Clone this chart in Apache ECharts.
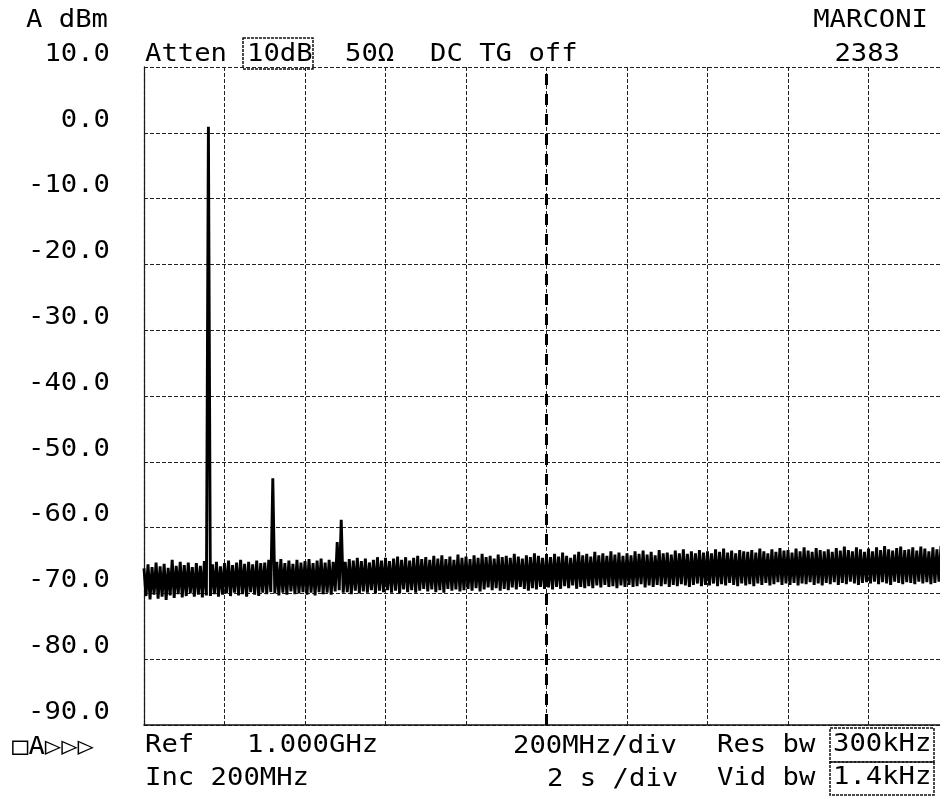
<!DOCTYPE html>
<html>
<head>
<meta charset="utf-8">
<title>MARCONI 2383</title>
<script src="https://cdn.jsdelivr.net/npm/echarts@6/dist/echarts.min.js"></script>
<style>
  html, body { margin: 0; padding: 0; background: #fff; }
  #chart { width: 940px; height: 797px; }
</style>
</head>
<body>
<div id="chart"></div>
<script>
// Frequency span (MHz): 200 MHz per division, ten divisions
const spanStartMHz = 0;
const spanEndMHz = 2000;
const freqDivMHz = 200;
const centerMHz = 1000;
const traceStepMHz = 5;

// Level scale (dBm)
const levelTicks = [10, 0, -10, -20, -30, -40, -50, -60, -70, -80, -90];
const levelTickLabels = ['10.0', '0.0', '-10.0', '-20.0', '-30.0', '-40.0', '-50.0', '-60.0', '-70.0', '-80.0', '-90.0'];

// Sweep trace, one reading every 5 MHz from 0 MHz to 2000 MHz (dBm)
const traceDbm = [
  -66.2, -70.4, -65.6, -70.9, -66.0, -70.2, -65.3, -70.8, -65.9, -70.5, -65.5, -71.0, -66.1, -70.3, -64.9, -70.7, -65.8, -70.1, -65.2, -70.6,
  -65.7, -70.4, -65.3, -70.0, -66.0, -70.5, -65.4, -70.2, -65.8, -70.6, -65.1, -70.3,   0.9, -70.4, -65.6, -70.1, -65.2, -70.5, -65.9, -70.2,
  -65.4, -70.0, -65.0, -70.4, -65.7, -69.9, -65.3, -70.3, -64.9, -70.1, -65.5, -70.5, -65.2, -69.8, -65.6, -70.2, -65.0, -70.4, -65.4, -69.9,
  -65.3, -70.1, -64.9, -69.8, -52.5, -70.0, -65.2, -70.3, -64.8, -69.9, -65.4, -70.2, -65.0, -69.7, -65.5, -70.1, -64.9, -70.0, -65.3, -69.8,
  -65.1, -70.2, -64.8, -69.9, -65.4, -70.3, -65.0, -69.8, -64.7, -70.1, -65.3, -69.9, -64.9, -70.2, -65.2, -69.7, -62.2, -69.5, -58.8, -69.9,
  -65.2, -69.8, -64.8, -70.1, -65.0, -69.6, -64.6, -70.0, -65.1, -69.7, -64.7, -69.9, -65.3, -69.5, -64.9, -70.0, -64.5, -69.6, -65.0, -69.8,
  -64.6, -69.5, -65.1, -69.9, -64.7, -69.6, -64.4, -70.0, -64.9, -69.4, -64.5, -69.8, -65.0, -69.5, -64.6, -69.9, -64.3, -69.6, -64.8, -69.3,
  -64.5, -69.7, -64.9, -69.4, -64.3, -69.8, -64.7, -69.5, -64.2, -69.9, -64.8, -69.3, -64.4, -69.6, -64.9, -69.4, -64.1, -69.7, -64.6, -69.5,
  -64.4, -69.3, -64.8, -69.6, -64.2, -69.2, -64.6, -69.7, -64.0, -69.4, -64.5, -69.1, -64.3, -69.5, -64.7, -69.2, -64.1, -69.6, -64.5, -69.3,
  -64.3, -69.5, -64.6, -69.1, -64.0, -69.4, -64.4, -69.0, -64.7, -69.3, -64.2, -69.6, -64.5, -69.2, -63.9, -69.4, -64.3, -69.0, -64.6, -69.3,
  -64.2, -69.1, -64.5, -69.4, -64.0, -69.0, -64.4, -69.3, -63.8, -68.9, -64.3, -69.2, -64.6, -68.8, -64.1, -69.3, -63.7, -69.0, -64.2, -69.2,
  -64.0, -68.9, -64.4, -69.2, -63.7, -68.8, -64.2, -69.1, -63.9, -68.7, -64.3, -69.0, -63.6, -68.9, -64.1, -69.2, -63.8, -68.8, -64.3, -69.0,
  -63.9, -68.7, -64.2, -69.0, -63.6, -68.9, -64.0, -68.6, -63.5, -69.1, -64.1, -68.8, -63.7, -69.0, -64.2, -68.7, -63.4, -68.9, -63.9, -68.6,
  -63.8, -69.0, -64.1, -68.7, -63.5, -68.9, -63.9, -68.6, -63.3, -68.8, -64.0, -69.0, -63.6, -68.7, -63.9, -68.5, -63.4, -68.9, -63.8, -68.7,
  -63.6, -68.8, -63.9, -68.5, -63.3, -68.9, -63.7, -68.6, -63.2, -68.8, -63.8, -68.4, -63.5, -68.7, -63.9, -68.9, -63.4, -68.5, -63.6, -68.8,
  -63.7, -68.6, -63.4, -68.9, -63.8, -68.5, -63.2, -68.7, -63.6, -68.4, -63.9, -68.8, -63.3, -68.6, -63.7, -68.3, -63.1, -68.7, -63.5, -68.5,
  -63.4, -68.7, -63.8, -68.4, -63.2, -68.8, -63.6, -68.5, -63.0, -68.6, -63.5, -68.3, -63.7, -68.7, -63.1, -68.5, -63.4, -68.8, -63.6, -68.4,
  -63.3, -68.6, -63.7, -68.3, -63.1, -68.7, -63.5, -68.4, -62.9, -68.6, -63.4, -68.2, -63.6, -68.5, -63.0, -68.7, -63.3, -68.4, -63.7, -68.3,
  -63.2, -68.5, -63.6, -68.2, -63.0, -68.6, -63.4, -68.3, -62.8, -68.5, -63.3, -68.7, -63.5, -68.2, -63.1, -68.4, -62.9, -68.6, -63.4, -68.3,
  -63.3, -68.4, -63.0, -68.6, -63.5, -68.2, -62.9, -68.5, -63.2, -68.3, -63.6, -68.6, -63.0, -68.4, -63.3, -68.2, -62.8, -68.5, -63.1, -68.4,
  -63.2
];

// Instrument annotations
const unitText = 'A dBm';
const makerText = 'MARCONI';
const modelText = '2383';
const attenText = 'Atten';
const attenValue = '10dB';
const impedanceText = '50Ω';
const couplingText = 'DC TG off';
const statusText = '□A▷▷▷';
const refText = 'Ref';
const refValue = '1.000GHz';
const incText = 'Inc 200MHz';
const spanText = '200MHz/div';
const sweepText = '2 s /div';
const resText = 'Res bw';
const resValue = '300kHz';
const vidText = 'Vid bw';
const vidValue = '1.4kHz';

const FONT = '"DejaVu Sans Mono", "Liberation Mono", monospace';
const FONT_SIZE = 24;
const STRETCH = 1.135;

const chart = echarts.init(document.getElementById('chart'), null, { renderer: 'canvas' });

const traceData = traceDbm.map((v, i) => [spanStartMHz + i * traceStepMHz, v]);

const gridLine = { color: '#222', width: 1, type: [4, 2] };

chart.setOption({
  animation: false,
  backgroundColor: '#fff',
  grid: { left: 144, top: 67, width: 805, height: 658, containLabel: false, outerBoundsMode: 'none' },
  xAxis: {
    type: 'value', min: spanStartMHz, max: spanEndMHz, interval: freqDivMHz,
    axisLine: { show: true, onZero: false, lineStyle: { color: '#111', width: 1.5 } },
    axisTick: { show: false }, axisLabel: { show: false },
    splitLine: { show: true, lineStyle: gridLine }
  },
  yAxis: {
    type: 'value', min: -90, max: 10, interval: 10,
    axisLine: { show: true, onZero: false, lineStyle: { color: '#1a1a1a', width: 1.3, type: [5, 1] } },
    axisTick: { show: false }, axisLabel: { show: false },
    splitLine: { show: true, lineStyle: gridLine }
  },
  series: [{
    type: 'line',
    data: traceData,
    showSymbol: false,
    symbol: 'none',
    clip: true,
    lineStyle: { color: '#000', width: 2.9, join: 'bevel' },
    markLine: {
      silent: true,
      symbol: ['none', 'none'],
      label: { show: false },
      lineStyle: { color: '#000', width: 3, type: [11, 9] },
      data: [{ xAxis: centerMHz }]
    }
  }]
});

function txt(text, x, y, align) {
  return {
    type: 'text', x: x, y: y, scaleX: STRETCH, z: 50,
    style: {
      text: text, fill: '#000', fontSize: FONT_SIZE, fontFamily: FONT,
      align: align || 'left', verticalAlign: 'middle'
    }
  };
}
function box(x, y, w, h) {
  return {
    type: 'rect', z: 40,
    shape: { x: x, y: y, width: w, height: h },
    style: { fill: 'rgba(0,0,0,0)', stroke: '#111', lineWidth: 1.5, lineDash: [3, 1] }
  };
}

const graphics = [];
// level labels sit just above their grid lines
levelTicks.forEach((v, i) => {
  const py = chart.convertToPixel({ yAxisIndex: 0 }, v);
  graphics.push(txt(levelTickLabels[i], 110, py - 12.5, 'right'));
});

graphics.push(
  txt(unitText, 26, 21),
  txt(makerText, 928, 21, 'right'),
  txt(modelText, 900, 55, 'right'),
  txt(attenText, 145, 55),
  box(243, 38, 70, 31),
  txt(attenValue, 247, 55),
  txt(impedanceText, 345, 55),
  txt(couplingText, 430, 55),
  txt(statusText, 12, 748),
  txt(refText, 145, 746),
  txt(refValue, 247, 746),
  txt(spanText, 513, 747),
  txt(resText, 717, 746),
  box(830, 728, 104, 34),
  txt(resValue, 833, 745),
  txt(incText, 145, 779),
  txt(sweepText, 547, 780),
  txt(vidText, 717, 779),
  box(830, 762, 104, 33),
  txt(vidValue, 833, 778)
);

chart.setOption({ graphic: graphics });
</script>
</body>
</html>
